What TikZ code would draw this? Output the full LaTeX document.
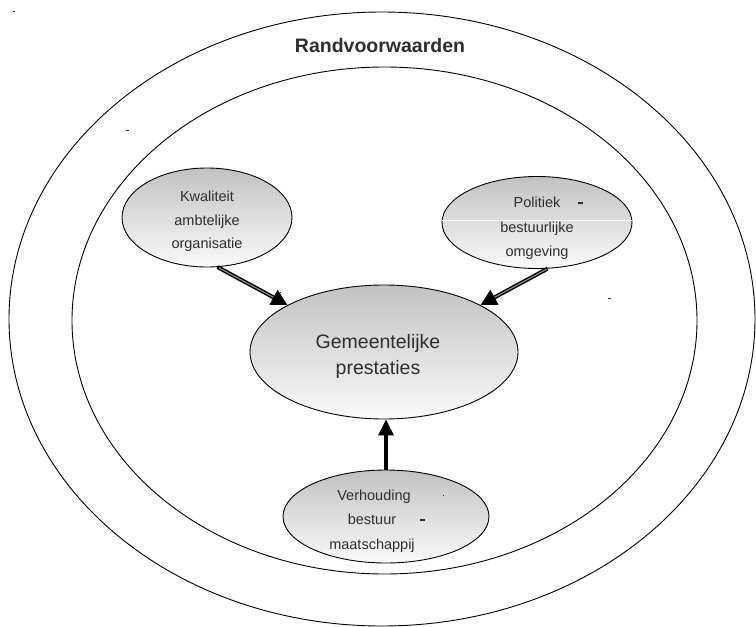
\documentclass[tikz,border=0pt]{standalone}
\usepackage{fontspec}
\setmainfont{Liberation Sans}
\usetikzlibrary{shapes.geometric,arrows.meta}
\definecolor{ink}{HTML}{2E2E2E}
\begin{document}
\begin{tikzpicture}[x=1pt,y=-1pt,
  ring/.style={ellipse, draw=black, line width=0.9pt, inner sep=0pt},
  bubble/.style={ellipse, draw=black, line width=0.9pt, inner sep=0pt,
    top color=black!24, bottom color=black!2},
  lbl/.style={text=ink, inner sep=0pt, anchor=base, font=\fontsize{14.5}{17}\selectfont},
  biglbl/.style={lbl, font=\fontsize{19.5}{23}\selectfont},
  title/.style={lbl, font=\fontsize{19.5}{23}\selectfont\bfseries},
  fat/.style={line width=4pt, -{Triangle[length=16pt,width=16pt]}},
  core/.style={line width=1pt, black!40, shorten >=16pt, shorten <=1.5pt},
  speck/.style={fill=ink}
]
\useasboundingbox (0,0) rectangle (756,627);

% the two rings
\node[ring, minimum width=746pt, minimum height=614pt] (outer) at (382,319) {};
\node[ring, minimum width=625pt, minimum height=507pt] (inner) at (384.5,320.5) {};
\node[title] (rv) at (380,52) {Randvoorwaarden};

% the four bubbles
\node[bubble, minimum width=170pt, minimum height=99pt] (kw) at (207,217.5) {};
\node[bubble, minimum width=190pt, minimum height=92pt] (pl) at (537,222.5) {};
\node[bubble, minimum width=268pt, minimum height=134pt] (gm) at (384,352) {};
\node[bubble, minimum width=206pt, minimum height=93pt] (vh) at (386,516.5) {};

% light streak across the right bubble
\draw[white, line width=0.8pt] ([yshift=2.5pt]pl.west) -- ([yshift=2.5pt]pl.east);

% labels
\node[lbl] (kw1) at (207,201.5) {Kwaliteit};
\node[lbl] (kw2) at (207,225) {ambtelijke};
\node[lbl] (kw3) at (207,248.5) {organisatie};

\node[lbl] (pl1) at (537,207.5) {Politiek};
\node[lbl] (pl2) at (537,232) {bestuurlijke};
\node[lbl] (pl3) at (537,256.5) {omgeving};

\node[biglbl] (gm1) at (378,348) {Gemeentelijke};
\node[biglbl] (gm2) at (378,374) {prestaties};

\node[lbl] (vh1) at (374,500.5) {Verhouding};
\node[lbl] (vh2) at (372,524) {bestuur};
\node[lbl] (vh3) at (372,549) {maatschappij};

% hyphens standing apart from the words
\fill[speck] (577.5,202) rectangle (582.5,204.2);
\fill[speck] (419.5,519) rectangle (424.5,521.3);

% stray specks
\fill[speck] (13,11) rectangle (15,12);
\fill[speck] (126,129.5) rectangle (129,130.6);
\fill[speck] (608,297.5) rectangle (611,298.5);
\fill[speck] (279.5,291.5) rectangle (280.7,292.7);
\fill[speck] (442.5,494.5) rectangle (443.7,495.7);

% arrows into the central bubble
\draw[fat] (kw.282) -- (gm.154);
\draw[core] (kw.282) -- (gm.154);
\draw[fat] (pl.283) -- (gm.26);
\draw[core] (pl.283) -- (gm.26);
\draw[line width=3.6pt, -{Triangle[length=16pt,width=15pt]}] (vh.north) -- (vh.north |- gm.south);
\end{tikzpicture}
\end{document}
